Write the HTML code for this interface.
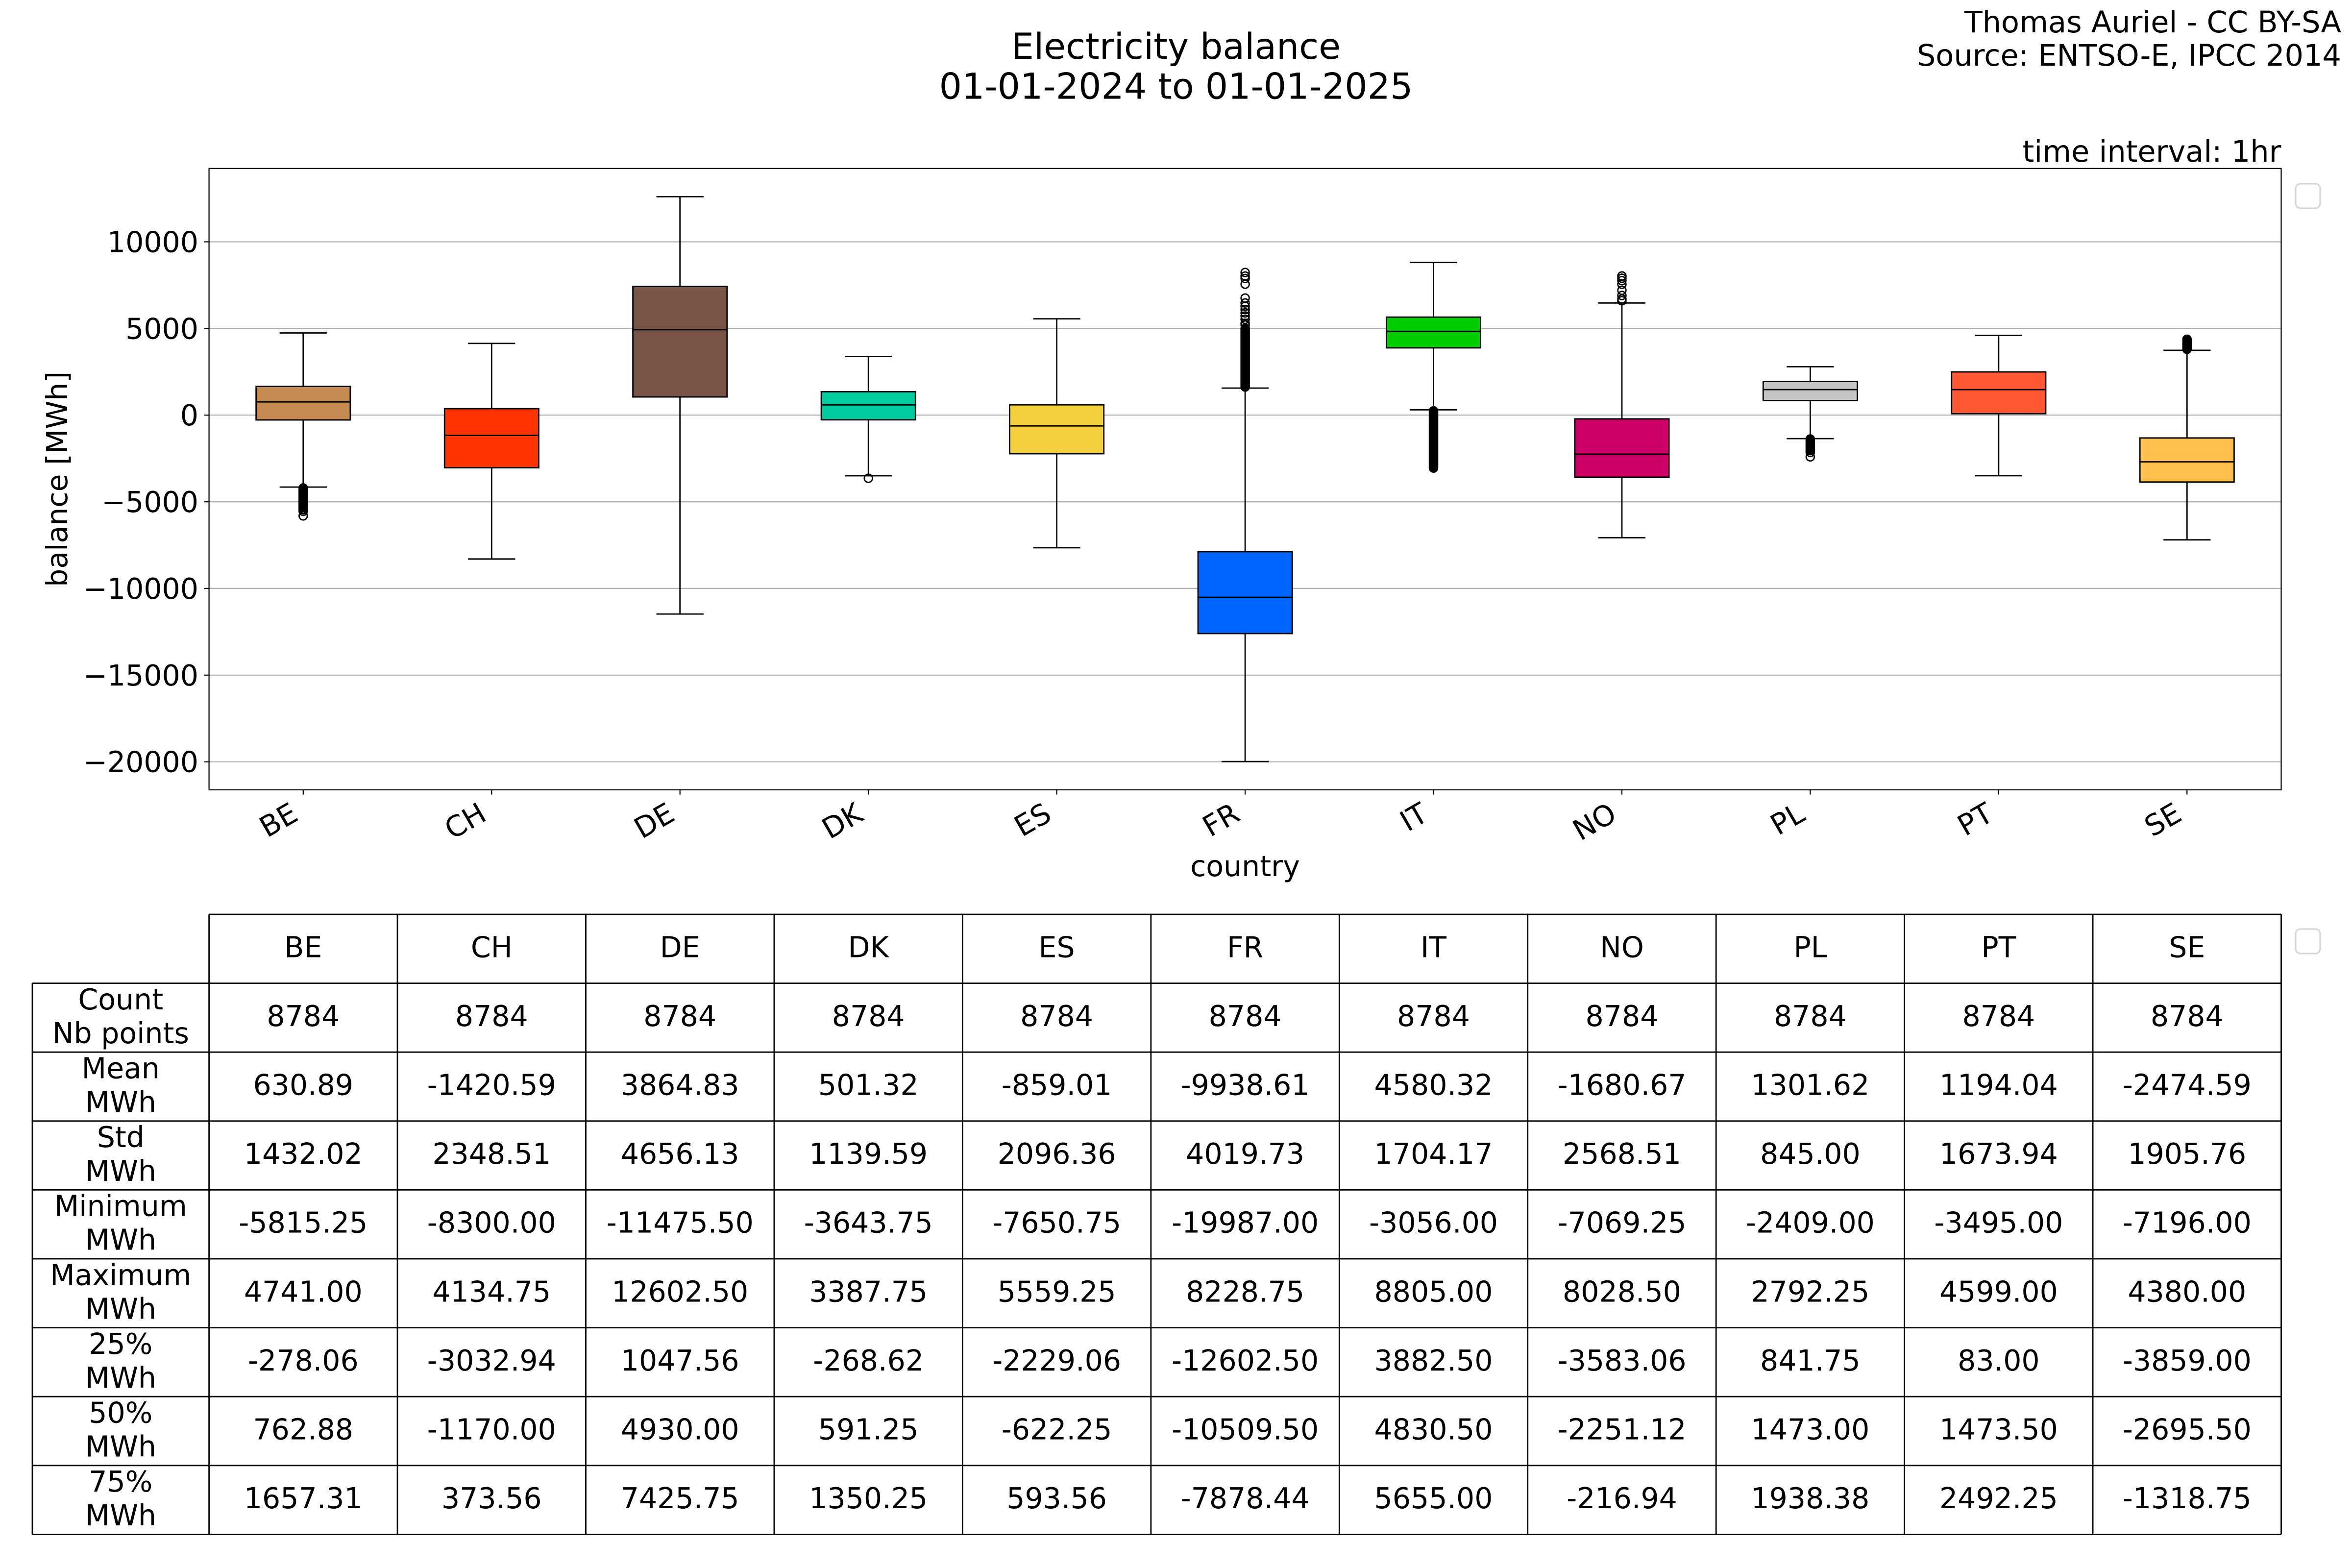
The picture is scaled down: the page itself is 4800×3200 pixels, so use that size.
<!DOCTYPE html>
<html>
<head>
<meta charset="utf-8">
<style>
html,body{margin:0;padding:0;background:#fff;}
svg{display:block;}
text{font-family:"DejaVu Sans","Liberation Sans",sans-serif;fill:#000;}
.t{font-size:58.5px;}
.c{text-anchor:middle;}
.e{text-anchor:end;}
.g{stroke:#b0b0b0;stroke-width:2.2;}
.bx{stroke:#000;stroke-width:2.78;}
.ln{stroke:#000;stroke-width:2.78;fill:none;}
.fl{stroke:#000;stroke-width:2.78;fill:none;}
.tb{stroke:#000;stroke-width:2.8;}
</style>
</head>
<body>
<svg width="4800" height="3200" viewBox="0 0 4800 3200" xmlns="http://www.w3.org/2000/svg">
<rect x="0" y="0" width="4800" height="3200" fill="#fff"/>

<!-- Titles -->
<text x="2400" y="120" class="c" style="font-size:72.9px">Electricity balance</text>
<text x="2400" y="201.7" class="c" style="font-size:72.9px">01-01-2024 to 01-01-2025</text>
<text x="4778" y="66" class="e" style="font-size:60.5px">Thomas Auriel - CC BY-SA</text>
<text x="4778" y="134" class="e" style="font-size:60.5px">Source: ENTSO-E, IPCC 2014</text>
<text x="4655.5" y="330" class="e" style="font-size:60.5px">time interval: 1hr</text>

<!-- Grid -->
<g class="g">
<line x1="426.6" y1="493.5" x2="4655.5" y2="493.5"/>
<line x1="426.6" y1="670.4" x2="4655.5" y2="670.4"/>
<line x1="426.6" y1="847.2" x2="4655.5" y2="847.2"/>
<line x1="426.6" y1="1024.1" x2="4655.5" y2="1024.1"/>
<line x1="426.6" y1="1200.9" x2="4655.5" y2="1200.9"/>
<line x1="426.6" y1="1377.8" x2="4655.5" y2="1377.8"/>
<line x1="426.6" y1="1554.7" x2="4655.5" y2="1554.7"/>
</g>

<!-- Boxes -->
<g class="bx">
<rect x="522.7" y="788.6" width="192.2" height="68.4" fill="#c68b52"/>
<rect x="907.2" y="834.0" width="192.2" height="120.5" fill="#ff3300"/>
<rect x="1291.6" y="584.5" width="192.2" height="225.6" fill="#795548"/>
<rect x="1676.1" y="799.4" width="192.2" height="57.3" fill="#00cc9f"/>
<rect x="2060.5" y="826.2" width="192.2" height="99.8" fill="#f4d03f"/>
<rect x="2445.0" y="1125.9" width="192.2" height="167.1" fill="#0066ff"/>
<rect x="2829.4" y="647.2" width="192.2" height="62.7" fill="#00cc00"/>
<rect x="3213.9" y="854.9" width="192.2" height="119.0" fill="#cc0066"/>
<rect x="3598.3" y="778.6" width="192.2" height="38.8" fill="#c4c4c4"/>
<rect x="3982.8" y="759.0" width="192.2" height="85.3" fill="#ff5733"/>
<rect x="4367.2" y="893.8" width="192.2" height="89.9" fill="#ffc04d"/>
</g>

<!-- Medians, whiskers, caps -->
<g class="ln">
<!-- BE -->
<line x1="522.7" y1="820.2" x2="714.9" y2="820.2"/>
<line x1="618.8" y1="857.0" x2="618.8" y2="994.0"/>
<line x1="618.8" y1="788.6" x2="618.8" y2="679.5"/>
<line x1="570.7" y1="994.0" x2="666.9" y2="994.0"/>
<line x1="570.7" y1="679.5" x2="666.9" y2="679.5"/>
<!-- CH -->
<line x1="907.2" y1="888.6" x2="1099.4" y2="888.6"/>
<line x1="1003.3" y1="954.5" x2="1003.3" y2="1140.8"/>
<line x1="1003.3" y1="834.0" x2="1003.3" y2="700.9"/>
<line x1="955.2" y1="1140.8" x2="1051.4" y2="1140.8"/>
<line x1="955.2" y1="700.9" x2="1051.4" y2="700.9"/>
<!-- DE -->
<line x1="1291.6" y1="672.8" x2="1483.8" y2="672.8"/>
<line x1="1387.7" y1="810.1" x2="1387.7" y2="1253.1"/>
<line x1="1387.7" y1="584.5" x2="1387.7" y2="401.4"/>
<line x1="1339.6" y1="1253.1" x2="1435.8" y2="1253.1"/>
<line x1="1339.6" y1="401.4" x2="1435.8" y2="401.4"/>
<!-- DK -->
<line x1="1676.1" y1="826.3" x2="1868.3" y2="826.3"/>
<line x1="1772.2" y1="856.7" x2="1772.2" y2="971.0"/>
<line x1="1772.2" y1="799.4" x2="1772.2" y2="727.4"/>
<line x1="1724.1" y1="971.0" x2="1820.3" y2="971.0"/>
<line x1="1724.1" y1="727.4" x2="1820.3" y2="727.4"/>
<!-- ES -->
<line x1="2060.5" y1="869.2" x2="2252.7" y2="869.2"/>
<line x1="2156.6" y1="926.0" x2="2156.6" y2="1117.8"/>
<line x1="2156.6" y1="826.2" x2="2156.6" y2="650.6"/>
<line x1="2108.5" y1="1117.8" x2="2204.7" y2="1117.8"/>
<line x1="2108.5" y1="650.6" x2="2204.7" y2="650.6"/>
<!-- FR -->
<line x1="2445.0" y1="1219.0" x2="2637.2" y2="1219.0"/>
<line x1="2541.1" y1="1293.0" x2="2541.1" y2="1554.2"/>
<line x1="2541.1" y1="1125.9" x2="2541.1" y2="792.0"/>
<line x1="2493.0" y1="1554.2" x2="2589.2" y2="1554.2"/>
<line x1="2493.0" y1="792.0" x2="2589.2" y2="792.0"/>
<!-- IT -->
<line x1="2829.4" y1="676.3" x2="3021.6" y2="676.3"/>
<line x1="2925.5" y1="709.9" x2="2925.5" y2="836.3"/>
<line x1="2925.5" y1="647.2" x2="2925.5" y2="535.7"/>
<line x1="2877.4" y1="836.3" x2="2973.6" y2="836.3"/>
<line x1="2877.4" y1="535.7" x2="2973.6" y2="535.7"/>
<!-- NO -->
<line x1="3213.9" y1="926.8" x2="3406.1" y2="926.8"/>
<line x1="3310.0" y1="973.9" x2="3310.0" y2="1097.3"/>
<line x1="3310.0" y1="854.9" x2="3310.0" y2="618.4"/>
<line x1="3261.9" y1="1097.3" x2="3358.1" y2="1097.3"/>
<line x1="3261.9" y1="618.4" x2="3358.1" y2="618.4"/>
<!-- PL -->
<line x1="3598.3" y1="795.1" x2="3790.5" y2="795.1"/>
<line x1="3694.4" y1="817.4" x2="3694.4" y2="895.1"/>
<line x1="3694.4" y1="778.6" x2="3694.4" y2="748.4"/>
<line x1="3646.3" y1="895.1" x2="3742.5" y2="895.1"/>
<line x1="3646.3" y1="748.4" x2="3742.5" y2="748.4"/>
<!-- PT -->
<line x1="3982.8" y1="795.1" x2="4175.0" y2="795.1"/>
<line x1="4078.9" y1="844.3" x2="4078.9" y2="970.8"/>
<line x1="4078.9" y1="759.0" x2="4078.9" y2="684.5"/>
<line x1="4030.8" y1="970.8" x2="4127.0" y2="970.8"/>
<line x1="4030.8" y1="684.5" x2="4127.0" y2="684.5"/>
<!-- SE -->
<line x1="4367.2" y1="942.5" x2="4559.4" y2="942.5"/>
<line x1="4463.3" y1="983.7" x2="4463.3" y2="1101.7"/>
<line x1="4463.3" y1="893.8" x2="4463.3" y2="714.9"/>
<line x1="4415.2" y1="1101.7" x2="4511.4" y2="1101.7"/>
<line x1="4415.2" y1="714.9" x2="4511.4" y2="714.9"/>
</g>

<!-- Fliers: dense regions -->
<g fill="#000">
<rect x="609.1" y="986.1" width="19.44" height="60.0" rx="9.72"/>
<rect x="2531.4" y="660.3" width="19.44" height="139.3" rx="9.72"/>
<rect x="2915.8" y="828.7" width="19.44" height="136.3" rx="9.72"/>
<rect x="3684.7" y="886.3" width="19.44" height="43.1" rx="9.72"/>
<rect x="4453.6" y="682.6" width="19.44" height="39.9" rx="9.72"/>
</g>
<!-- Fliers: individual circles -->
<g class="fl">
<circle cx="618.8" cy="1040.0" r="8.33"/>
<circle cx="618.8" cy="1043.5" r="8.33"/>
<circle cx="618.8" cy="1052.9" r="8.33"/>
<circle cx="1772.2" cy="976.1" r="8.33"/>
<circle cx="2541.1" cy="663.3" r="8.33"/>
<circle cx="2541.1" cy="659.7" r="8.33"/>
<circle cx="2541.1" cy="651.7" r="8.33"/>
<circle cx="2541.1" cy="645.0" r="8.33"/>
<circle cx="2541.1" cy="638.5" r="8.33"/>
<circle cx="2541.1" cy="631.7" r="8.33"/>
<circle cx="2541.1" cy="625.0" r="8.33"/>
<circle cx="2541.1" cy="618.3" r="8.33"/>
<circle cx="2541.1" cy="608.3" r="8.33"/>
<circle cx="2541.1" cy="580.0" r="8.33"/>
<circle cx="2541.1" cy="568.3" r="8.33"/>
<circle cx="2541.1" cy="563.3" r="8.33"/>
<circle cx="2541.1" cy="556.1" r="8.33"/>
<circle cx="3310.0" cy="613.7" r="8.33"/>
<circle cx="3310.0" cy="610.2" r="8.33"/>
<circle cx="3310.0" cy="603.1" r="8.33"/>
<circle cx="3310.0" cy="592.5" r="8.33"/>
<circle cx="3310.0" cy="580.1" r="8.33"/>
<circle cx="3310.0" cy="572.7" r="8.33"/>
<circle cx="3310.0" cy="567.8" r="8.33"/>
<circle cx="3310.0" cy="563.2" r="8.33"/>
<circle cx="3694.4" cy="923.3" r="8.33"/>
<circle cx="3694.4" cy="932.4" r="8.33"/>
</g>

<!-- Axes frame -->
<rect x="426.6" y="343.8" width="4228.9" height="1268.1" fill="none" stroke="#000" stroke-width="2.2"/>

<!-- Y ticks -->
<g stroke="#000" stroke-width="2.2">
<line x1="416.9" y1="493.5" x2="426.6" y2="493.5"/>
<line x1="416.9" y1="670.4" x2="426.6" y2="670.4"/>
<line x1="416.9" y1="847.2" x2="426.6" y2="847.2"/>
<line x1="416.9" y1="1024.1" x2="426.6" y2="1024.1"/>
<line x1="416.9" y1="1200.9" x2="426.6" y2="1200.9"/>
<line x1="416.9" y1="1377.8" x2="426.6" y2="1377.8"/>
<line x1="416.9" y1="1554.7" x2="426.6" y2="1554.7"/>
</g>
<g class="t e">
<text x="405" y="514.5">10000</text>
<text x="405" y="691.4">5000</text>
<text x="405" y="868.2">0</text>
<text x="405" y="1045.1">−5000</text>
<text x="405" y="1221.9">−10000</text>
<text x="405" y="1398.8">−15000</text>
<text x="405" y="1575.7">−20000</text>
</g>

<!-- X ticks -->
<g stroke="#000" stroke-width="2.2">
<line x1="618.8" y1="1611.9" x2="618.8" y2="1621.6"/>
<line x1="1003.3" y1="1611.9" x2="1003.3" y2="1621.6"/>
<line x1="1387.7" y1="1611.9" x2="1387.7" y2="1621.6"/>
<line x1="1772.2" y1="1611.9" x2="1772.2" y2="1621.6"/>
<line x1="2156.6" y1="1611.9" x2="2156.6" y2="1621.6"/>
<line x1="2541.1" y1="1611.9" x2="2541.1" y2="1621.6"/>
<line x1="2925.5" y1="1611.9" x2="2925.5" y2="1621.6"/>
<line x1="3310.0" y1="1611.9" x2="3310.0" y2="1621.6"/>
<line x1="3694.4" y1="1611.9" x2="3694.4" y2="1621.6"/>
<line x1="4078.9" y1="1611.9" x2="4078.9" y2="1621.6"/>
<line x1="4463.3" y1="1611.9" x2="4463.3" y2="1621.6"/>
</g>
<g class="t e">
<text transform="translate(611.8,1672) rotate(-30)">BE</text>
<text transform="translate(996.3,1672) rotate(-30)">CH</text>
<text transform="translate(1380.7,1672) rotate(-30)">DE</text>
<text transform="translate(1765.2,1672) rotate(-30)">DK</text>
<text transform="translate(2149.6,1672) rotate(-30)">ES</text>
<text transform="translate(2534.1,1672) rotate(-30)">FR</text>
<text transform="translate(2918.5,1672) rotate(-30)">IT</text>
<text transform="translate(3303.0,1672) rotate(-30)">NO</text>
<text transform="translate(3687.4,1672) rotate(-30)">PL</text>
<text transform="translate(4071.9,1672) rotate(-30)">PT</text>
<text transform="translate(4456.3,1672) rotate(-30)">SE</text>
</g>

<!-- Axis labels -->
<text x="2541" y="1788" class="t c">country</text>
<text transform="translate(137,977.8) rotate(-90)" class="t c">balance [MWh]</text>

<!-- Legend boxes (empty) -->
<rect x="4685" y="375" width="50" height="50" rx="10" fill="#fff" stroke="#d6d6d6" stroke-width="3.2"/>
<rect x="4685" y="1896" width="50" height="50" rx="10" fill="#fff" stroke="#d6d6d6" stroke-width="3.2"/>

<!-- Table lines -->
<g class="tb">
<line x1="426.6" y1="1866" x2="4655.5" y2="1866"/>
<line x1="66" y1="2006.6" x2="4655.5" y2="2006.6"/>
<line x1="66" y1="2147.2" x2="4655.5" y2="2147.2"/>
<line x1="66" y1="2287.8" x2="4655.5" y2="2287.8"/>
<line x1="66" y1="2428.4" x2="4655.5" y2="2428.4"/>
<line x1="66" y1="2569.0" x2="4655.5" y2="2569.0"/>
<line x1="66" y1="2709.6" x2="4655.5" y2="2709.6"/>
<line x1="66" y1="2850.2" x2="4655.5" y2="2850.2"/>
<line x1="66" y1="2990.8" x2="4655.5" y2="2990.8"/>
<line x1="66" y1="3131.4" x2="4655.5" y2="3131.4"/>
<line x1="66" y1="2006.6" x2="66" y2="3131.4"/>
<line x1="426.6" y1="1866" x2="426.6" y2="3131.4"/>
<line x1="811.05" y1="1866" x2="811.05" y2="3131.4"/>
<line x1="1195.5" y1="1866" x2="1195.5" y2="3131.4"/>
<line x1="1579.95" y1="1866" x2="1579.95" y2="3131.4"/>
<line x1="1964.4" y1="1866" x2="1964.4" y2="3131.4"/>
<line x1="2348.85" y1="1866" x2="2348.85" y2="3131.4"/>
<line x1="2733.3" y1="1866" x2="2733.3" y2="3131.4"/>
<line x1="3117.75" y1="1866" x2="3117.75" y2="3131.4"/>
<line x1="3502.2" y1="1866" x2="3502.2" y2="3131.4"/>
<line x1="3886.65" y1="1866" x2="3886.65" y2="3131.4"/>
<line x1="4271.1" y1="1866" x2="4271.1" y2="3131.4"/>
<line x1="4655.55" y1="1866" x2="4655.55" y2="3131.4"/>
</g>

<!-- Table text -->
<g class="t c">
<!-- header -->
<text x="618.8" y="1953.3">BE</text>
<text x="1003.3" y="1953.3">CH</text>
<text x="1387.7" y="1953.3">DE</text>
<text x="1772.2" y="1953.3">DK</text>
<text x="2156.6" y="1953.3">ES</text>
<text x="2541.1" y="1953.3">FR</text>
<text x="2925.5" y="1953.3">IT</text>
<text x="3310.0" y="1953.3">NO</text>
<text x="3694.4" y="1953.3">PL</text>
<text x="4078.9" y="1953.3">PT</text>
<text x="4463.3" y="1953.3">SE</text>

<!-- row labels -->
<text x="246.3" y="2059.9">Count</text><text x="246.3" y="2128.9">Nb points</text>
<text x="246.3" y="2200.5">Mean</text><text x="246.3" y="2269.5">MWh</text>
<text x="246.3" y="2341.1">Std</text><text x="246.3" y="2410.1">MWh</text>
<text x="246.3" y="2481.7">Minimum</text><text x="246.3" y="2550.7">MWh</text>
<text x="246.3" y="2622.3">Maximum</text><text x="246.3" y="2691.3">MWh</text>
<text x="246.3" y="2762.9">25%</text><text x="246.3" y="2831.9">MWh</text>
<text x="246.3" y="2903.5">50%</text><text x="246.3" y="2972.5">MWh</text>
<text x="246.3" y="3044.1">75%</text><text x="246.3" y="3113.1">MWh</text>

<!-- Count -->
<text x="618.8" y="2093.9">8784</text>
<text x="1003.3" y="2093.9">8784</text>
<text x="1387.7" y="2093.9">8784</text>
<text x="1772.2" y="2093.9">8784</text>
<text x="2156.6" y="2093.9">8784</text>
<text x="2541.1" y="2093.9">8784</text>
<text x="2925.5" y="2093.9">8784</text>
<text x="3310.0" y="2093.9">8784</text>
<text x="3694.4" y="2093.9">8784</text>
<text x="4078.9" y="2093.9">8784</text>
<text x="4463.3" y="2093.9">8784</text>
<!-- Mean -->
<text x="618.8" y="2234.5">630.89</text>
<text x="1003.3" y="2234.5">-1420.59</text>
<text x="1387.7" y="2234.5">3864.83</text>
<text x="1772.2" y="2234.5">501.32</text>
<text x="2156.6" y="2234.5">-859.01</text>
<text x="2541.1" y="2234.5">-9938.61</text>
<text x="2925.5" y="2234.5">4580.32</text>
<text x="3310.0" y="2234.5">-1680.67</text>
<text x="3694.4" y="2234.5">1301.62</text>
<text x="4078.9" y="2234.5">1194.04</text>
<text x="4463.3" y="2234.5">-2474.59</text>
<!-- Std -->
<text x="618.8" y="2375.1">1432.02</text>
<text x="1003.3" y="2375.1">2348.51</text>
<text x="1387.7" y="2375.1">4656.13</text>
<text x="1772.2" y="2375.1">1139.59</text>
<text x="2156.6" y="2375.1">2096.36</text>
<text x="2541.1" y="2375.1">4019.73</text>
<text x="2925.5" y="2375.1">1704.17</text>
<text x="3310.0" y="2375.1">2568.51</text>
<text x="3694.4" y="2375.1">845.00</text>
<text x="4078.9" y="2375.1">1673.94</text>
<text x="4463.3" y="2375.1">1905.76</text>
<!-- Minimum -->
<text x="618.8" y="2515.7">-5815.25</text>
<text x="1003.3" y="2515.7">-8300.00</text>
<text x="1387.7" y="2515.7">-11475.50</text>
<text x="1772.2" y="2515.7">-3643.75</text>
<text x="2156.6" y="2515.7">-7650.75</text>
<text x="2541.1" y="2515.7">-19987.00</text>
<text x="2925.5" y="2515.7">-3056.00</text>
<text x="3310.0" y="2515.7">-7069.25</text>
<text x="3694.4" y="2515.7">-2409.00</text>
<text x="4078.9" y="2515.7">-3495.00</text>
<text x="4463.3" y="2515.7">-7196.00</text>
<!-- Maximum -->
<text x="618.8" y="2656.3">4741.00</text>
<text x="1003.3" y="2656.3">4134.75</text>
<text x="1387.7" y="2656.3">12602.50</text>
<text x="1772.2" y="2656.3">3387.75</text>
<text x="2156.6" y="2656.3">5559.25</text>
<text x="2541.1" y="2656.3">8228.75</text>
<text x="2925.5" y="2656.3">8805.00</text>
<text x="3310.0" y="2656.3">8028.50</text>
<text x="3694.4" y="2656.3">2792.25</text>
<text x="4078.9" y="2656.3">4599.00</text>
<text x="4463.3" y="2656.3">4380.00</text>
<!-- 25% -->
<text x="618.8" y="2796.9">-278.06</text>
<text x="1003.3" y="2796.9">-3032.94</text>
<text x="1387.7" y="2796.9">1047.56</text>
<text x="1772.2" y="2796.9">-268.62</text>
<text x="2156.6" y="2796.9">-2229.06</text>
<text x="2541.1" y="2796.9">-12602.50</text>
<text x="2925.5" y="2796.9">3882.50</text>
<text x="3310.0" y="2796.9">-3583.06</text>
<text x="3694.4" y="2796.9">841.75</text>
<text x="4078.9" y="2796.9">83.00</text>
<text x="4463.3" y="2796.9">-3859.00</text>
<!-- 50% -->
<text x="618.8" y="2937.5">762.88</text>
<text x="1003.3" y="2937.5">-1170.00</text>
<text x="1387.7" y="2937.5">4930.00</text>
<text x="1772.2" y="2937.5">591.25</text>
<text x="2156.6" y="2937.5">-622.25</text>
<text x="2541.1" y="2937.5">-10509.50</text>
<text x="2925.5" y="2937.5">4830.50</text>
<text x="3310.0" y="2937.5">-2251.12</text>
<text x="3694.4" y="2937.5">1473.00</text>
<text x="4078.9" y="2937.5">1473.50</text>
<text x="4463.3" y="2937.5">-2695.50</text>
<!-- 75% -->
<text x="618.8" y="3078.1">1657.31</text>
<text x="1003.3" y="3078.1">373.56</text>
<text x="1387.7" y="3078.1">7425.75</text>
<text x="1772.2" y="3078.1">1350.25</text>
<text x="2156.6" y="3078.1">593.56</text>
<text x="2541.1" y="3078.1">-7878.44</text>
<text x="2925.5" y="3078.1">5655.00</text>
<text x="3310.0" y="3078.1">-216.94</text>
<text x="3694.4" y="3078.1">1938.38</text>
<text x="4078.9" y="3078.1">2492.25</text>
<text x="4463.3" y="3078.1">-1318.75</text>
</g>
</svg>
</body>
</html>
